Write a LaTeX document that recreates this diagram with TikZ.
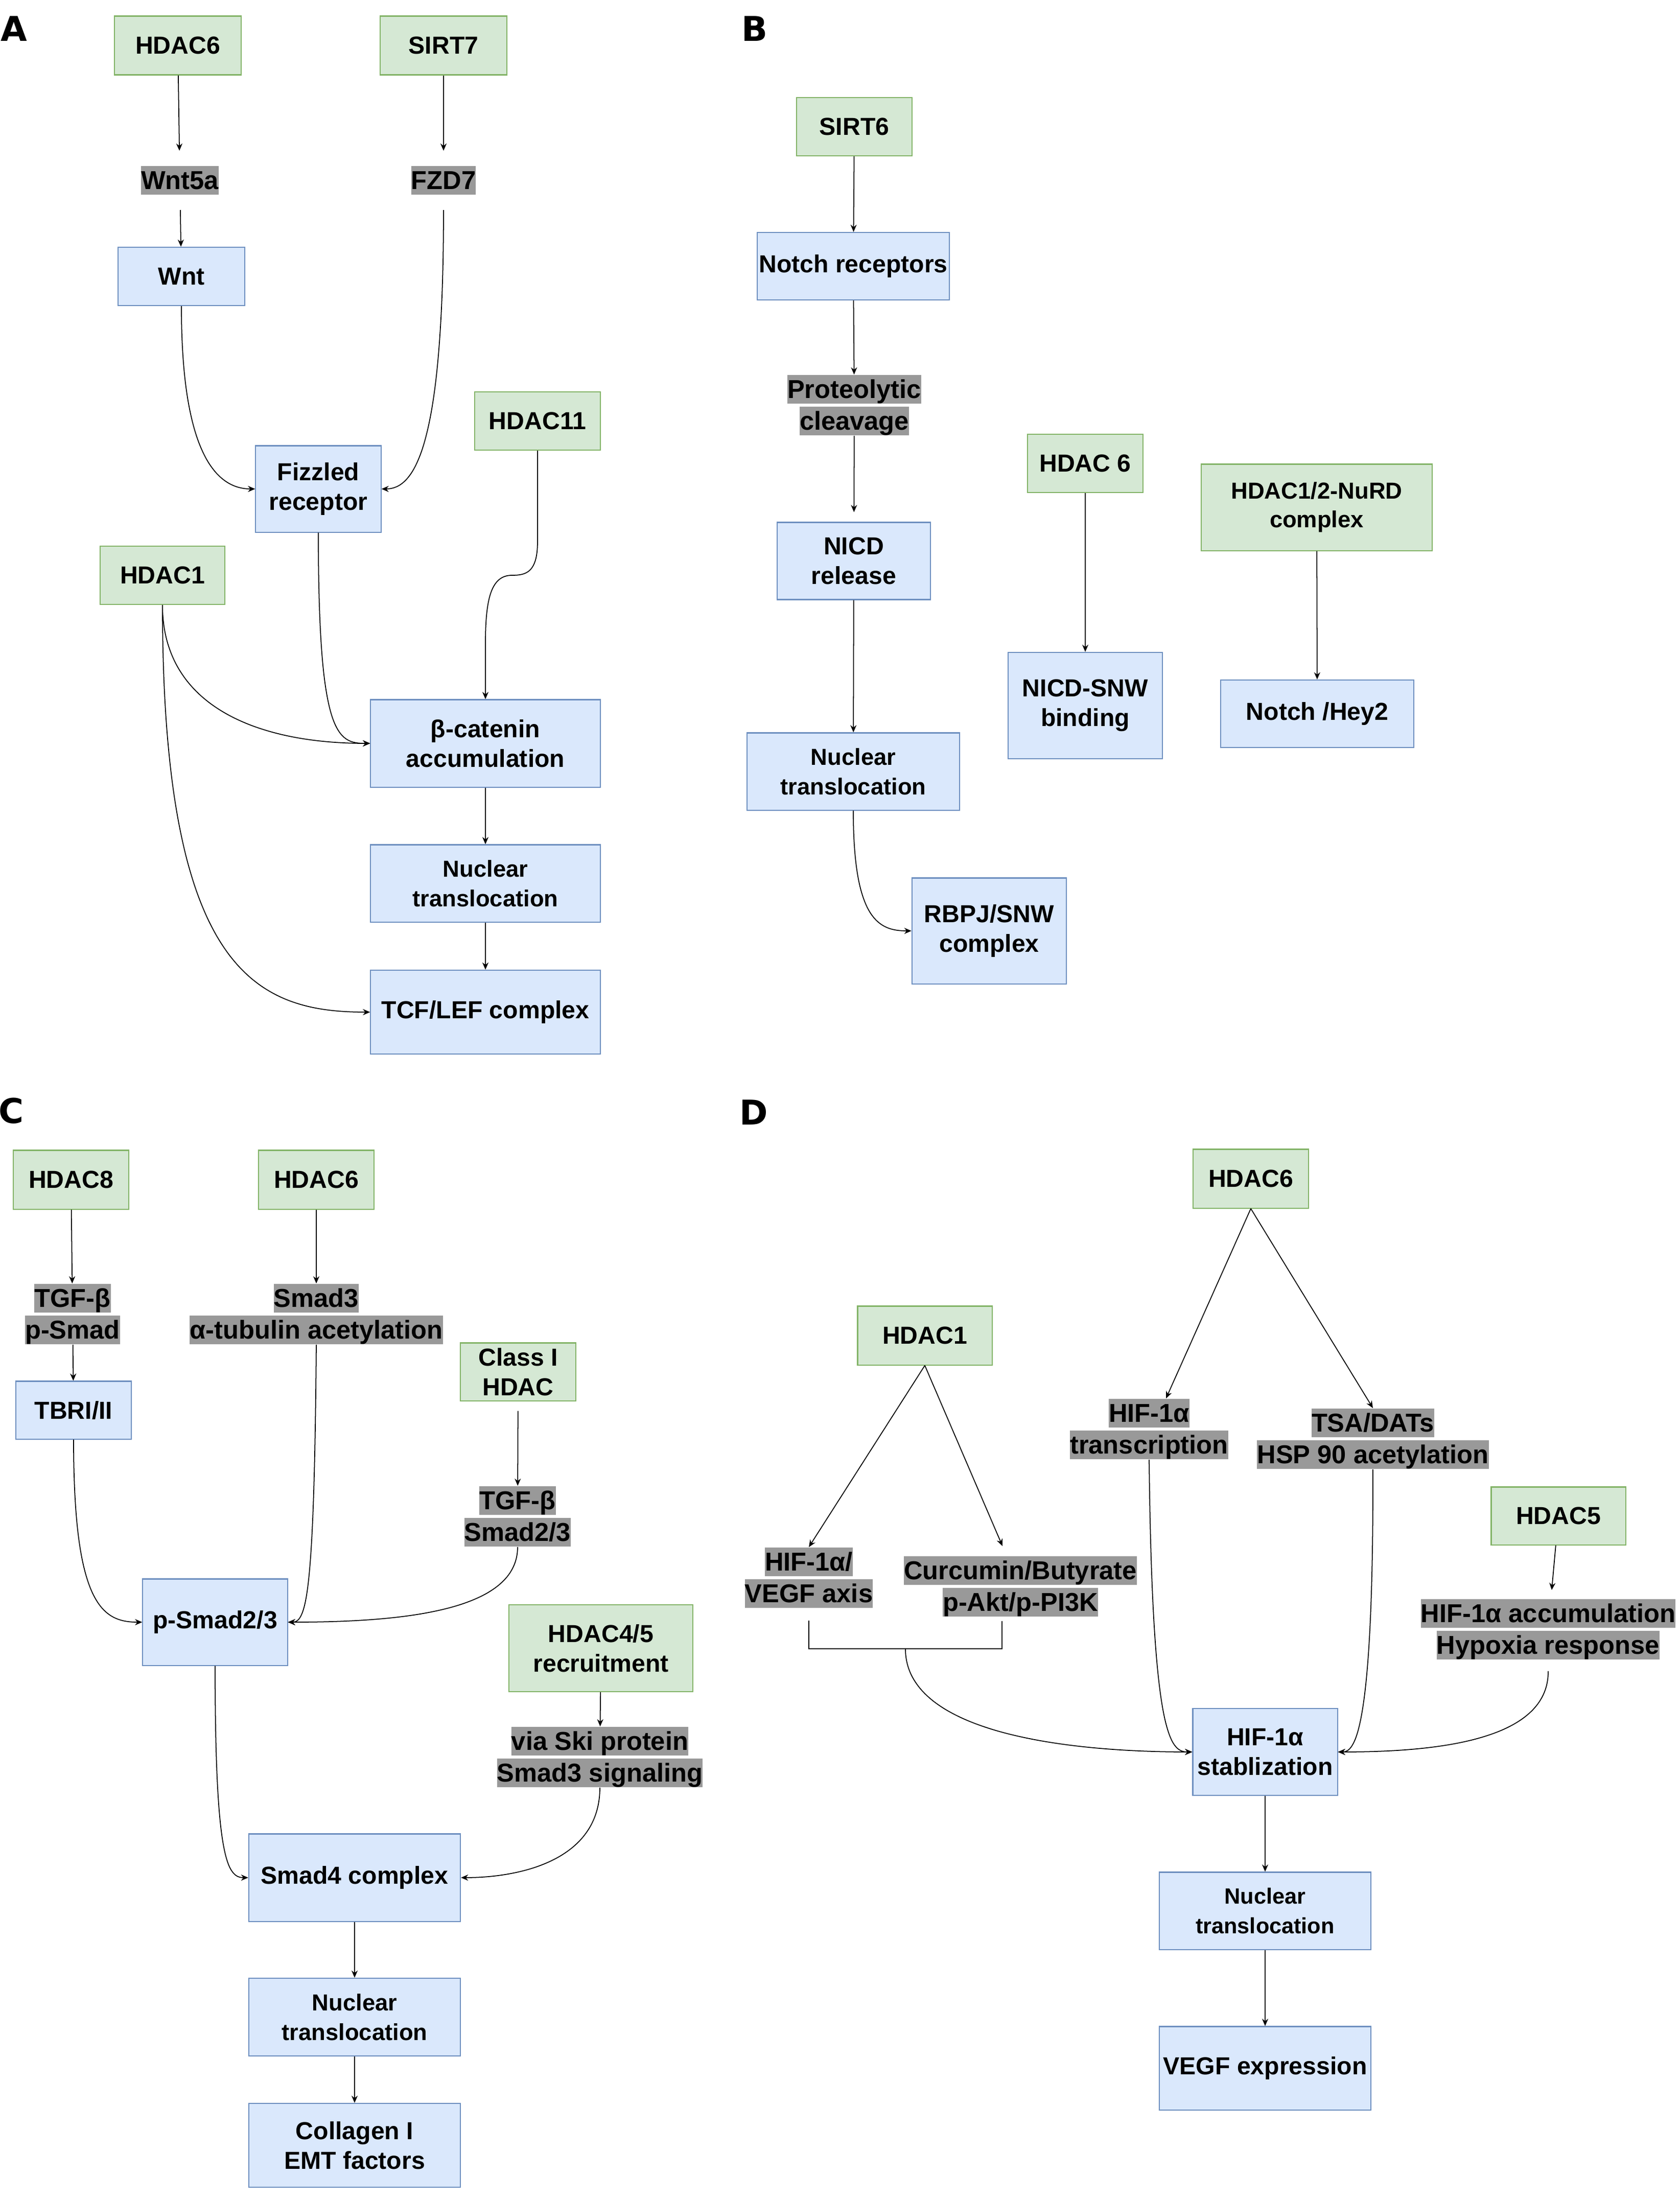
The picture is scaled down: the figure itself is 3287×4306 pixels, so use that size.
\documentclass[tikz,border=0pt]{standalone}
\usepackage{fontspec}
\setmainfont{Liberation Sans}
\newfontfamily\letterfont{DejaVu Sans}
\usetikzlibrary{arrows.meta}
\definecolor{gfill}{HTML}{D5E8D4}
\definecolor{gdraw}{HTML}{82B366}
\definecolor{bfill}{HTML}{DAE8FC}
\definecolor{bdraw}{HTML}{6C8EBF}
\definecolor{lgray}{HTML}{999999}
\setlength{\fboxsep}{0pt}
\newcommand{\gl}[1]{\colorbox{lgray}{\rule[-0.212em]{0pt}{1.117em}#1}}
\newcommand{\boxfont}{\fontsize{13.7}{16.4}\selectfont\bfseries}
\newcommand{\nucfont}{\fontsize{12.9}{16.4}\selectfont\bfseries}
\newcommand{\nucDfont}{\fontsize{12.3}{16.4}\selectfont\bfseries}
\newcommand{\nurdfont}{\fontsize{12.9}{16}\selectfont\bfseries}
\newcommand{\labfont}{\fontsize{14.4}{17.6}\selectfont\bfseries}
\newcommand{\panelfont}{\letterfont\fontsize{19}{22}\selectfont\bfseries}
\begin{document}
\begin{tikzpicture}[x=0.01cm, y=-0.01cm,
  base/.style={rectangle, inner sep=0pt, align=center, font=\boxfont, line width=0.6pt},
  grn/.style={base, fill=gfill, draw=gdraw},
  blu/.style={base, fill=bfill, draw=bdraw},
  sz/.style 2 args={minimum width=#1, minimum height=#2},
  lab/.style={inner sep=0pt, align=center, font=\labfont},
  arr/.style={line width=0.5pt, -{Stealth[length=4pt,width=3.4pt]}},
  ln/.style={line width=0.5pt},
  panel/.style={font=\panelfont, inner sep=0pt}
]
\path[fill=white] (0,0) rectangle (3287,4306);
\useasboundingbox (0,0) rectangle (3287,4306);

% panel letters
\node[panel] (pa) at (27,56) {A};
\node[panel] (pb) at (1477,56) {B};
\node[panel] (pc) at (22,2174) {C};
\node[panel] (pd) at (1475,2177) {D};

% ---------- Panel A ----------
\node[grn, sz={2.47cm}{1.15cm}] (hdacAsix) at (348,89) {HDAC6};
\node[grn, sz={2.47cm}{1.15cm}] (sirtseven) at (868,89) {SIRT7};
\node[lab, inner ysep=0.29cm] (wntfa) at (352,353) {\gl{Wnt5a}};
\node[lab, inner ysep=0.29cm] (fzd) at (868,353) {\gl{FZD7}};
\node[blu, sz={2.47cm}{1.14cm}] (wnt) at (355,541) {Wnt};
\node[blu, sz={2.45cm}{1.69cm}] (fizz) at (623,957) {Fizzled\\receptor};
\node[grn, sz={2.45cm}{1.14cm}] (hdacAeleven) at (1052,824) {HDAC11};
\node[grn, sz={2.44cm}{1.14cm}] (hdacAone) at (318,1126) {HDAC1};
\node[blu, sz={4.49cm}{1.71cm}] (beta) at (950,1455) {β-catenin\\accumulation};
\node[blu, sz={4.49cm}{1.51cm}, font=\nucfont] (nucA) at (950,1729) {Nuclear\\translocation};
\node[blu, sz={4.49cm}{1.64cm}] (tcf) at (950,1981) {TCF/LEF complex};

\draw[arr] (hdacAsix) -- (wntfa);
\draw[arr] (sirtseven) -- (fzd);
\draw[arr] (wntfa) -- (wnt);
\draw[arr] (wnt.south) .. controls (355,880) and (420,957) .. (fizz.west);
\draw[arr] (fzd.south) .. controls (868,880) and (810,957) .. (fizz.east);
\draw[arr] (hdacAeleven.south) -- (1052,1060) .. controls (1052,1120) and (1030,1126) .. (1002,1126) .. controls (962,1126) and (950,1170) .. (950,1260) -- (beta.north);
\draw[arr] (fizz.south) .. controls (623,1440) and (660,1455) .. (beta.west);
\draw[arr] (hdacAone.south) .. controls (318,1380) and (500,1455) .. (beta.west);
\draw[arr] (hdacAone.south) .. controls (318,1900) and (500,1981) .. (tcf.west);
\draw[arr] (beta) -- (nucA);
\draw[arr] (nucA) -- (tcf);

% ---------- Panel B ----------
\node[grn, sz={2.26cm}{1.14cm}] (sirtsix) at (1672,248) {SIRT6};
\node[blu, sz={3.76cm}{1.32cm}] (notch) at (1670,521) {Notch receptors};
\node[lab] (prot) at (1672,793) {\gl{Proteolytic}\\\gl{cleavage}};
\node[blu, sz={3.00cm}{1.51cm}] (nicd) at (1671,1098) {NICD\\release};
\node[blu, sz={4.16cm}{1.51cm}, font=\nucfont] (nucB) at (1670,1510) {Nuclear\\translocation};
\node[blu, sz={3.02cm}{2.07cm}] (rbpj) at (1936,1822) {RBPJ/SNW\\complex};
\node[grn, sz={2.26cm}{1.14cm}] (hdacBsix) at (2124,907) {HDAC 6};
\node[blu, sz={3.02cm}{2.08cm}] (nicdsnw) at (2124,1381) {NICD-SNW\\binding};
\node[grn, sz={4.51cm}{1.69cm}, font=\nurdfont] (nurd) at (2577,993) {HDAC1/2-NuRD\\complex};
\node[blu, sz={3.77cm}{1.32cm}] (hey) at (2578,1397) {Notch /Hey2};

\draw[arr] (sirtsix) -- (notch);
\draw[arr] (notch) -- (prot);
\draw[arr, shorten >=0.19cm] (prot) -- (nicd);
\draw[arr] (nicd) -- (nucB);
\draw[arr] (nucB.south) .. controls (1670,1800) and (1720,1822) .. (rbpj.west);
\draw[arr] (hdacBsix) -- (nicdsnw);
\draw[arr] (nurd) -- (hey);

% ---------- Panel C ----------
\node[grn, sz={2.26cm}{1.15cm}] (hdaceight) at (139,2309) {HDAC8};
\node[grn, sz={2.26cm}{1.15cm}] (hdacCsix) at (619,2309) {HDAC6};
\node[lab] (tgfp) at (142,2572) {\gl{TGF-β}\\\gl{p-Smad}};
\node[lab] (smadthree) at (619,2572) {\gl{Smad3}\\\gl{α-tubulin acetylation}};
\node[blu, sz={2.26cm}{1.13cm}] (tbri) at (144,2760) {TBRI/II};
\node[grn, sz={2.26cm}{1.13cm}] (classi) at (1014,2685) {Class I\\HDAC};
\node[lab] (tgfs) at (1013,2968) {\gl{TGF-β}\\\gl{Smad2/3}};
\node[blu, sz={2.83cm}{1.69cm}] (psmad) at (421,3175) {p-Smad2/3};
\node[grn, sz={3.60cm}{1.70cm}] (hdacff) at (1176,3226) {HDAC4/5\\recruitment};
\node[lab] (ski) at (1174,3439) {\gl{via Ski protein}\\\gl{Smad3 signaling}};
\node[blu, sz={4.14cm}{1.71cm}] (smadfour) at (694,3675) {Smad4 complex};
\node[blu, sz={4.14cm}{1.52cm}, font=\nucfont] (nucC) at (694,3948) {Nuclear\\translocation};
\node[blu, sz={4.14cm}{1.64cm}] (coll) at (694,4199) {Collagen I\\EMT factors};

\draw[arr] (hdaceight) -- (tgfp);
\draw[arr] (tgfp) -- (tbri);
\draw[arr] (tbri.south) .. controls (144,3140) and (200,3175) .. (psmad.west);
\draw[arr] (hdacCsix) -- (smadthree);
\draw[arr] (smadthree.south) .. controls (615,3120) and (600,3175) .. (psmad.east);
\draw[arr] (tgfs.south) .. controls (1013,3150) and (800,3175) .. (psmad.east);
\draw[arr, shorten <=0.19cm] (classi) -- (tgfs);
\draw[arr] (hdacff) -- (ski);
\draw[arr] (psmad.south) .. controls (421,3640) and (445,3675) .. (smadfour.west);
\draw[arr] (ski.south) .. controls (1174,3640) and (1020,3675) .. (smadfour.east);
\draw[arr] (smadfour) -- (nucC);
\draw[arr] (nucC) -- (coll);

% ---------- Panel D ----------
\node[grn, sz={2.26cm}{1.15cm}] (hdacDsix) at (2448,2307) {HDAC6};
\node[grn, sz={2.63cm}{1.15cm}] (hdacDone) at (1810,2614) {HDAC1};
\node[lab] (hift) at (2249,2797) {\gl{HIF-1α}\\\gl{transcription}};
\node[lab] (tsa) at (2687,2816) {\gl{TSA/DATs}\\\gl{HSP 90 acetylation}};
\node[lab] (hifv) at (1583,3088) {\gl{HIF-1α/}\\\gl{VEGF axis}};
\node[lab] (curc) at (1997,3105) {\gl{Curcumin/Butyrate}\\\gl{p-Akt/p-PI3K}};
\node[grn, sz={2.63cm}{1.13cm}] (hdacfive) at (3050,2967) {HDAC5};
\node[lab] (hypo) at (3030,3189) {\gl{HIF-1α accumulation}\\\gl{Hypoxia response}};
\node[blu, sz={2.83cm}{1.70cm}] (stab) at (2476,3429) {HIF-1α\\stablization};
\node[blu, sz={4.14cm}{1.51cm}, font=\nucDfont] (nucD) at (2476,3740) {Nuclear\\translocation};
\node[blu, sz={4.14cm}{1.63cm}] (vegf) at (2476,4048) {VEGF expression};

\draw[arr] (hdacDsix.south) -- ([xshift=0.33cm]hift.north);
\draw[arr] (hdacDsix.south) -- (tsa.north);
\draw[arr] (hdacDone.south) -- (hifv.north);
\draw[arr] (hdacDone.south) -- ([xshift=-0.35cm,yshift=0.19cm]curc.north);
\draw[arr, shorten >=0.17cm] (hdacfive) -- (hypo);
\coordinate (bl) at ([yshift=-0.24cm]hifv.south);
\coordinate (br) at ([xshift=-0.36cm,yshift=-0.08cm]curc.south);
\coordinate (bj) at (1772,3227);
\draw[ln] (bl) |- (bj) -| (br);
\draw[arr] (bj) .. controls (1772,3390) and (2080,3429) .. (stab.west);
\draw[arr] (hift.south) .. controls (2255,3400) and (2290,3429) .. (stab.west);
\draw[arr] (tsa.south) .. controls (2688,3400) and (2650,3429) .. (stab.east);
\draw[arr] ([yshift=-0.22cm]hypo.south) .. controls (3031,3410) and (2800,3429) .. (stab.east);
\draw[arr] (stab) -- (nucD);
\draw[arr] (nucD) -- (vegf);
\end{tikzpicture}
\end{document}
